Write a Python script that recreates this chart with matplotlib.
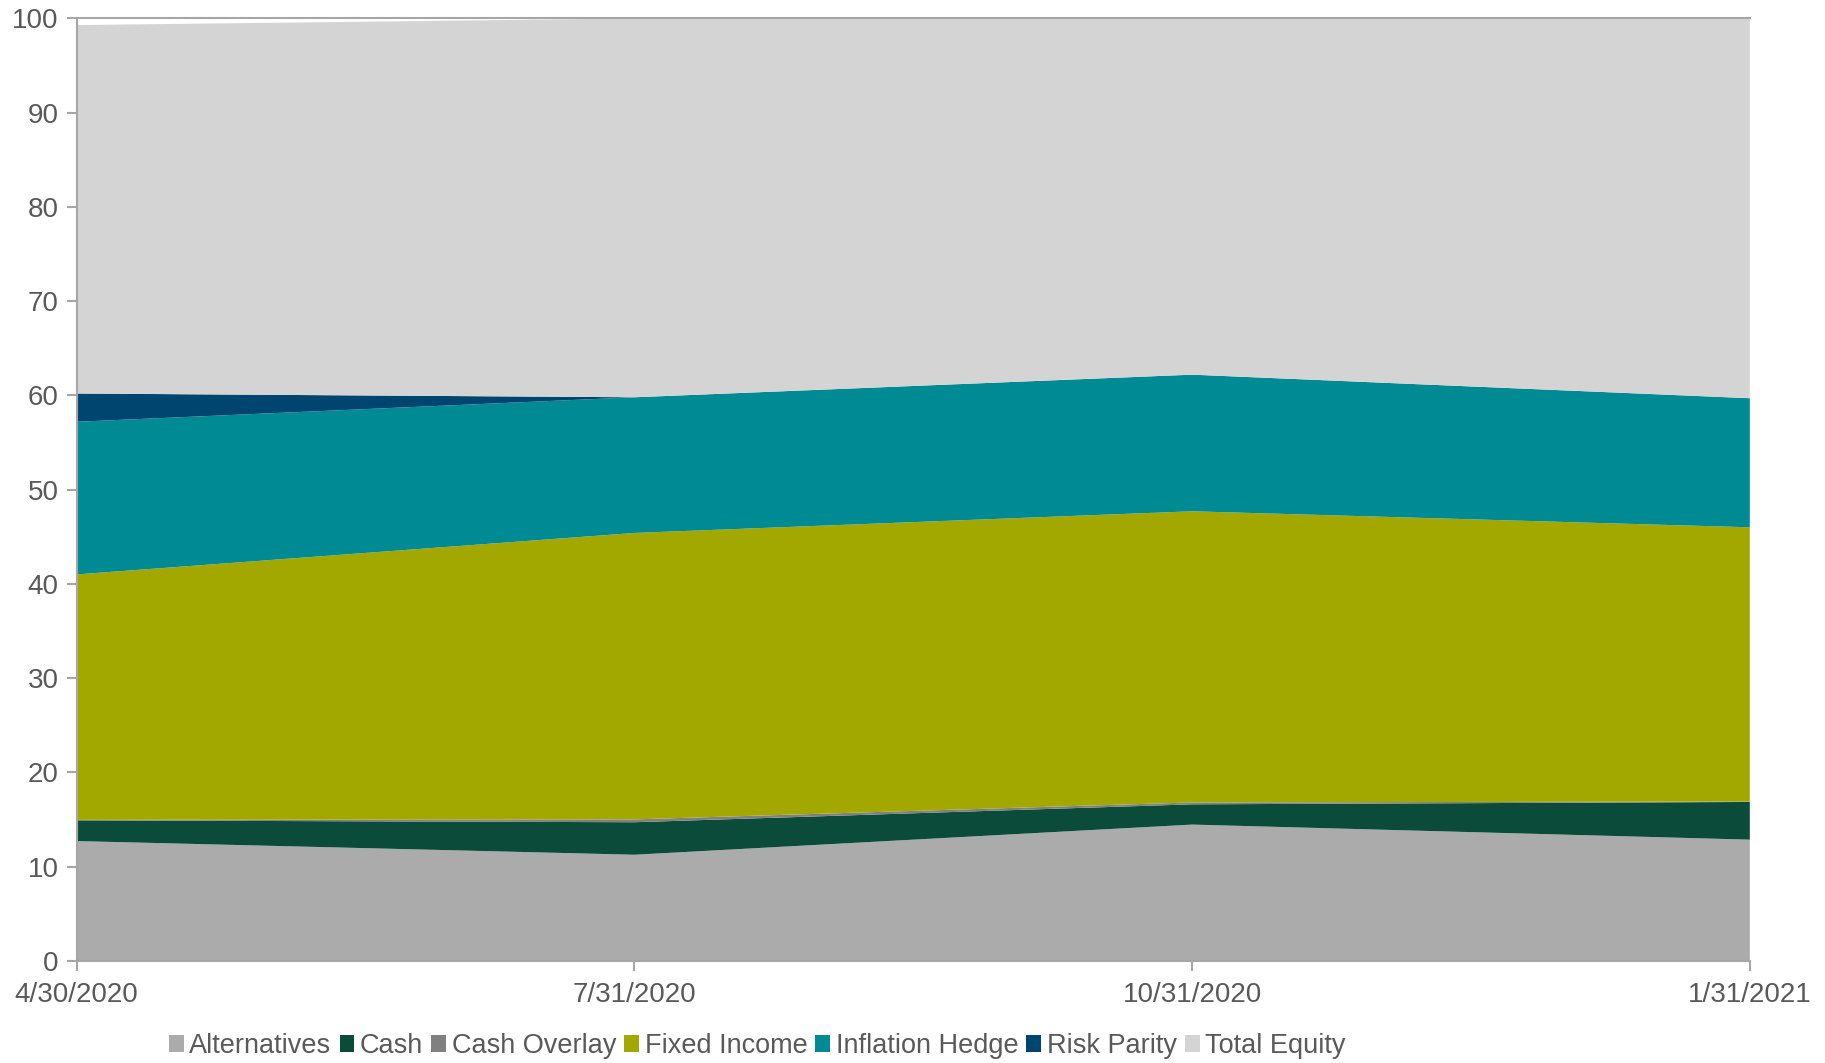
import numpy as np
import matplotlib.pyplot as plt

plt.rcParams['font.family'] = ['Liberation Sans', 'DejaVu Sans']

dates = ['4/30/2020', '7/31/2020', '10/31/2020', '1/31/2021']
alternatives = [12.7, 11.25, 14.45, 12.85]
cash = [2.2, 3.45, 2.15, 4.0]
cash_overlay = [0.05, 0.3, 0.2, 0.05]
fixed_income = [26.05, 30.4, 30.9, 29.1]
inflation_hedge = [16.2, 14.4, 14.5, 13.7]
risk_parity = [3.0, 0.0, 0.0, 0.0]
total_equity = [39.1, 40.2, 37.8, 40.3]

names = ['Alternatives', 'Cash', 'Cash Overlay', 'Fixed Income',
         'Inflation Hedge', 'Risk Parity', 'Total Equity']
colors = ['#ABABAB', '#0B4B3A', '#808080', '#A3A800',
          '#008B94', '#004570', '#D4D4D4']

fig = plt.figure(figsize=(18.25, 10.63), dpi=100)
ax = fig.add_axes([0.042, 0.0962, 0.9168, 0.8864])

x = np.arange(len(dates))
ax.stackplot(x, alternatives, cash, cash_overlay, fixed_income,
             inflation_hedge, risk_parity, total_equity,
             labels=names, colors=colors, linewidth=0)

ax.set_xlim(0, 3)
ax.set_ylim(0, 100)
ax.set_yticks(range(0, 101, 10))
ax.set_xticks(x)
ax.set_xticklabels(dates)

gray = '#A6A6A6'
for s in ['left', 'bottom', 'top']:
    ax.spines[s].set_color(gray)
    ax.spines[s].set_linewidth(1.5)
ax.spines['right'].set_visible(False)
ax.tick_params(axis='both', colors=gray, labelcolor='#595959',
               labelsize=20, length=7, width=1.5)
ax.tick_params(axis='x', pad=8)
ax.tick_params(axis='y', pad=6)

leg = fig.legend(loc='center', bbox_to_anchor=(0.415, 0.016), ncol=7,
                 frameon=False, fontsize=19.5, handlelength=0.55,
                 handleheight=0.55, handletextpad=0.2, columnspacing=0.3,
                 labelcolor='#595959')

fig.savefig('out.png', dpi=100)
